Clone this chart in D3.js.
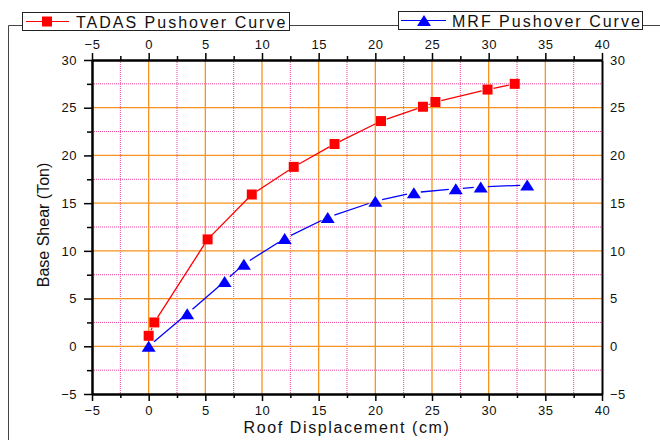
<!DOCTYPE html>
<html>
<head>
<meta charset="utf-8">
<script src="https://cdn.jsdelivr.net/npm/d3@7"></script>
<style>
  body { margin: 0; background: #fff; }
  svg { display: block; font-family: "Liberation Sans", Arial, sans-serif; }
</style>
</head>
<body>
<div id="chart"></div>
<script>
// data
var tadasX = [0, 0.5, 5.2, 9.1, 12.8, 16.4, 20.5, 24.2, 25.3, 29.9, 32.3];
var tadasY = [1.1, 2.5, 11.2, 15.9, 18.8, 21.2, 23.6, 25.1, 25.6, 26.9, 27.5];
var mrfX = [0, 3.4, 6.7, 8.4, 12.0, 15.8, 20.0, 23.4, 27.1, 29.3, 33.4];
var mrfY = [0, 3.4, 6.8, 8.6, 11.3, 13.5, 15.2, 16.1, 16.5, 16.7, 16.9];
var seriesNames = ["TADAS Pushover Curve", "MRF Pushover Curve"];
var xMajor = [-5, 0, 5, 10, 15, 20, 25, 30, 35, 40];
var xMinor = [-2.5, 2.5, 7.5, 12.5, 17.5, 22.5, 27.5, 32.5, 37.5];
var yMajor = [-5, 0, 5, 10, 15, 20, 25, 30];
var yMinor = [-2.5, 2.5, 7.5, 12.5, 17.5, 22.5, 27.5];

var width = 660, height = 440;
var plotLeft = 92, plotRight = 602, plotTop = 60, plotBottom = 394;
var orange = "#f7931e", pink = "#e8409c";

var svg = d3.select("#chart").append("svg").attr("width", width).attr("height", height);

var x = d3.scaleLinear().domain([-5, 40]).range([plotLeft, plotRight]);
var y = d3.scaleLinear().domain([-5, 30]).range([plotBottom, plotTop]);

// outer frame (only left and top edges show)
svg.append("path").attr("d", "M8.5,440 V25.5 H660")
    .attr("fill", "none").attr("stroke", "#444").attr("stroke-width", 1);

// grid
var grid = svg.append("g");
grid.selectAll(".vmin").data(xMinor).enter().append("line")
    .attr("x1", function(d){ return x(d); }).attr("x2", function(d){ return x(d); })
    .attr("y1", plotTop).attr("y2", plotBottom)
    .attr("stroke", pink).attr("stroke-width", 1).attr("stroke-dasharray", "1,1");
grid.selectAll(".hmin").data(yMinor).enter().append("line")
    .attr("y1", function(d){ return y(d); }).attr("y2", function(d){ return y(d); })
    .attr("x1", plotLeft).attr("x2", plotRight)
    .attr("stroke", pink).attr("stroke-width", 1).attr("stroke-dasharray", "1,1");
grid.selectAll(".vmaj").data(xMajor.slice(1, -1)).enter().append("line")
    .attr("x1", function(d){ return x(d); }).attr("x2", function(d){ return x(d); })
    .attr("y1", plotTop).attr("y2", plotBottom)
    .attr("stroke", orange).attr("stroke-width", 1.3);
grid.selectAll(".hmaj").data(yMajor.slice(1, -1)).enter().append("line")
    .attr("y1", function(d){ return y(d); }).attr("y2", function(d){ return y(d); })
    .attr("x1", plotLeft).attr("x2", plotRight)
    .attr("stroke", orange).attr("stroke-width", 1.3);

// axes
function styleAxis(g){
    g.select(".domain").attr("stroke", "#000").attr("stroke-width", 2);
    g.selectAll(".tick line").attr("stroke", "#000").attr("stroke-width", 1.5);
    g.selectAll(".tick text").attr("fill", "#111").style("font-size", "13px")
        .style("letter-spacing", "0.5px");
}

svg.append("g").attr("transform", "translate(0," + plotBottom + ")")
    .call(d3.axisBottom(x).tickValues(xMinor).tickFormat("").tickSize(4).tickSizeOuter(0))
    .call(styleAxis);
svg.append("g").attr("transform", "translate(0," + plotBottom + ")")
    .call(d3.axisBottom(x).tickValues(xMajor).tickFormat(d3.format("d")).tickSize(7).tickPadding(5).tickSizeOuter(0))
    .call(styleAxis);
svg.append("g").attr("transform", "translate(0," + plotTop + ")")
    .call(d3.axisTop(x).tickValues(xMinor).tickFormat("").tickSize(4).tickSizeOuter(0))
    .call(styleAxis);
svg.append("g").attr("transform", "translate(0," + plotTop + ")")
    .call(d3.axisTop(x).tickValues(xMajor).tickFormat(d3.format("d")).tickSize(7).tickPadding(4).tickSizeOuter(0))
    .call(styleAxis);
svg.append("g").attr("transform", "translate(" + plotLeft + ",0)")
    .call(d3.axisLeft(y).tickValues(yMinor).tickFormat("").tickSize(5).tickSizeOuter(0))
    .call(styleAxis);
svg.append("g").attr("transform", "translate(" + plotLeft + ",0)")
    .call(d3.axisLeft(y).tickValues(yMajor).tickFormat(d3.format("d")).tickSize(8).tickPadding(7).tickSizeOuter(0))
    .call(styleAxis);
svg.append("g").attr("transform", "translate(" + plotRight + ",0)")
    .call(d3.axisRight(y).tickValues(yMajor).tickFormat(d3.format("d")).tickSize(0).tickPadding(8).tickSizeOuter(0))
    .call(styleAxis);

// axis titles
svg.append("text").attr("x", (plotLeft + plotRight) / 2).attr("y", 433)
    .attr("text-anchor", "middle").style("font-size", "16px").style("letter-spacing", "1.6px")
    .attr("fill", "#111").text("Roof Displacement (cm)");
svg.append("text").attr("transform", "translate(49," + ((plotTop + plotBottom) / 2 - 2) + ") rotate(-90)")
    .attr("text-anchor", "middle").style("font-size", "16px")
    .attr("fill", "#111").text("Base Shear (Ton)");

// series: line segments with a gap round each symbol
function gappedSegments(g, xs, ys, color, gap){
    var pts = xs.map(function(d, i){ return [x(d), y(ys[i])]; });
    for (var i = 0; i < pts.length - 1; i++){
        var a = pts[i], b = pts[i + 1];
        var dx = b[0] - a[0], dy = b[1] - a[1], len = Math.sqrt(dx * dx + dy * dy);
        if (len <= 2 * gap) continue;
        var ux = dx / len, uy = dy / len;
        g.append("line")
            .attr("x1", a[0] + ux * gap).attr("y1", a[1] + uy * gap)
            .attr("x2", b[0] - ux * gap).attr("y2", b[1] - uy * gap)
            .attr("stroke", color).attr("stroke-width", 1.3);
    }
}

function square(cx, cy, s){
    return "M" + (cx - s / 2) + "," + (cy - s / 2) + "h" + s + "v" + s + "h" + (-s) + "Z";
}
function triangle(cx, cy, w, h){
    return "M" + cx + "," + (cy - h / 2) + "L" + (cx + w / 2) + "," + (cy + h / 2) + "L" + (cx - w / 2) + "," + (cy + h / 2) + "Z";
}

var s1 = svg.append("g");
gappedSegments(s1, tadasX, tadasY, "#ff0000", 6);
s1.selectAll("path").data(tadasX).enter().append("path")
    .attr("d", function(d, i){ return square(x(d), y(tadasY[i]), 10); })
    .attr("fill", "#ff0000");

var s2 = svg.append("g");
gappedSegments(s2, mrfX, mrfY, "#0000ff", 7);
s2.selectAll("path").data(mrfX).enter().append("path")
    .attr("d", function(d, i){ return triangle(x(d), y(mrfY[i]), 14, 11); })
    .attr("fill", "#0000ff");

// legends
var leg1 = svg.append("g");
leg1.append("rect").attr("x", 22.5).attr("y", 12.5).attr("width", 267).attr("height", 18)
    .attr("fill", "#fff").attr("stroke", "#222").attr("stroke-width", 1);
leg1.append("line").attr("x1", 26).attr("x2", 69).attr("y1", 21.5).attr("y2", 21.5)
    .attr("stroke", "#ff0000").attr("stroke-width", 1.2);
leg1.append("path").attr("d", square(47, 21.5, 10)).attr("fill", "#ff0000");
leg1.append("text").attr("x", 76).attr("y", 27.5).style("font-size", "16px")
    .style("letter-spacing", "2px").attr("fill", "#111").text(seriesNames[0]);

var leg2 = svg.append("g");
leg2.append("rect").attr("x", 398.5).attr("y", 11.5).attr("width", 244).attr("height", 18)
    .attr("fill", "#fff").attr("stroke", "#222").attr("stroke-width", 1);
leg2.append("line").attr("x1", 401).attr("x2", 446).attr("y1", 20.5).attr("y2", 20.5)
    .attr("stroke", "#0000ff").attr("stroke-width", 1.2);
leg2.append("path").attr("d", triangle(424, 20.5, 14, 11)).attr("fill", "#0000ff");
leg2.append("text").attr("x", 452).attr("y", 26.5).style("font-size", "16px")
    .style("letter-spacing", "2px").attr("fill", "#111").text(seriesNames[1]);
</script>
</body>
</html>
